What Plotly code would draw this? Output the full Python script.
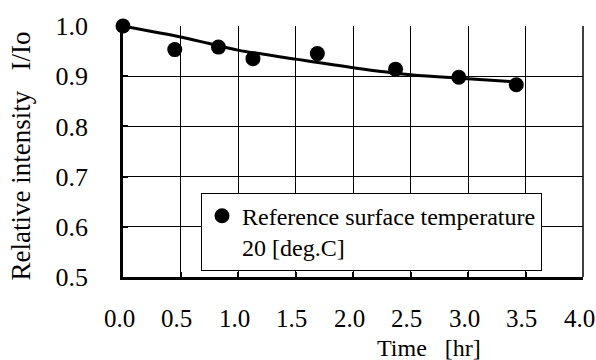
import plotly.graph_objects as go

# measured points
time_hr = [0.0, 0.45, 0.83, 1.13, 1.69, 2.37, 2.92, 3.42]
rel_int = [1.0, 0.953, 0.958, 0.935, 0.945, 0.914, 0.898, 0.883]

# fitted curve
fit_t = [0.0, 0.25, 0.5, 0.75, 1.0, 1.5, 2.0, 2.5, 3.0, 3.45]
fit_i = [1.0, 0.989, 0.978, 0.965, 0.952, 0.934, 0.917, 0.903, 0.895, 0.888]

x_ticks = [0.0, 0.5, 1.0, 1.5, 2.0, 2.5, 3.0, 3.5, 4.0]
y_ticks = [0.5, 0.6, 0.7, 0.8, 0.9, 1.0]

FONT = "Liberation Serif"
FS = 24
NB = "\u00a0"

fig = go.Figure()
fig.add_trace(go.Scatter(x=fit_t, y=fit_i, mode="lines", line=dict(color="black", width=3, shape="spline"),
                         showlegend=False, cliponaxis=False, hoverinfo="skip"))
fig.add_trace(go.Scatter(x=time_hr, y=rel_int, mode="markers",
                         marker=dict(color="black", size=15),
                         name="Reference surface temperature<br>20 [deg.C]", cliponaxis=False))

x_lbl = [dict(text=f"{v:.1f}", x=v, y=0.5, xref="x", yref="y", showarrow=False,
              xanchor="center", yanchor="middle", xshift=-4, yshift=-41,
              font=dict(family=FONT, size=25, color="black")) for v in x_ticks]

fig.update_layout(
    width=596, height=360,
    margin=dict(l=123, r=13, t=21, b=83),
    paper_bgcolor="white", plot_bgcolor="white",
    font=dict(family=FONT, size=FS, color="black"),
    showlegend=True,
    legend=dict(x=(201-123)/460, y=(277-191)/256, xanchor="left", yanchor="top",
                bgcolor="white", bordercolor="black", borderwidth=1,
                font=dict(family=FONT, size=FS, color="black"),
                valign="top", itemwidth=30, tracegroupgap=0),
    xaxis=dict(range=[0, 4.0], tickvals=x_ticks, showticklabels=False,
               showgrid=True, gridcolor="black", gridwidth=1,
               showline=True, linecolor="black", linewidth=2.5,
               ticks="inside", ticklen=5, tickcolor="black", tickwidth=1.5,
               zeroline=False, fixedrange=True),
    yaxis=dict(range=[0.5, 1.0], tickvals=y_ticks, ticktext=[f"{v:.1f}" for v in y_ticks],
               tickfont=dict(family=FONT, size=26, color="black"),
               showgrid=True, gridcolor="black", gridwidth=1,
               showline=True, linecolor="black", linewidth=2.5,
               ticks="inside", ticklen=5, tickcolor="black", tickwidth=1.5,
               ticklabelstandoff=27, zeroline=False, fixedrange=True),
    annotations=x_lbl + [
        dict(text=f"Time{NB}{NB}{NB}[hr]", xref="paper", yref="paper", x=(429-123)/460, y=-(349-277)/256,
             xanchor="center", yanchor="middle", showarrow=False, font=dict(family=FONT, size=FS)),
        dict(text=f"Relative intensity{NB}{NB}{NB}I/Io", xref="paper", yref="paper", x=-(123-21)/460, y=(277-154)/256,
             xanchor="center", yanchor="middle", textangle=-90, showarrow=False, font=dict(family=FONT, size=27)),
    ],
)
# right border
fig.add_shape(type="line", xref="paper", yref="paper", x0=1, x1=1, y0=0, y1=1, line=dict(color="black", width=1.5))

fig.write_html("out.html")
